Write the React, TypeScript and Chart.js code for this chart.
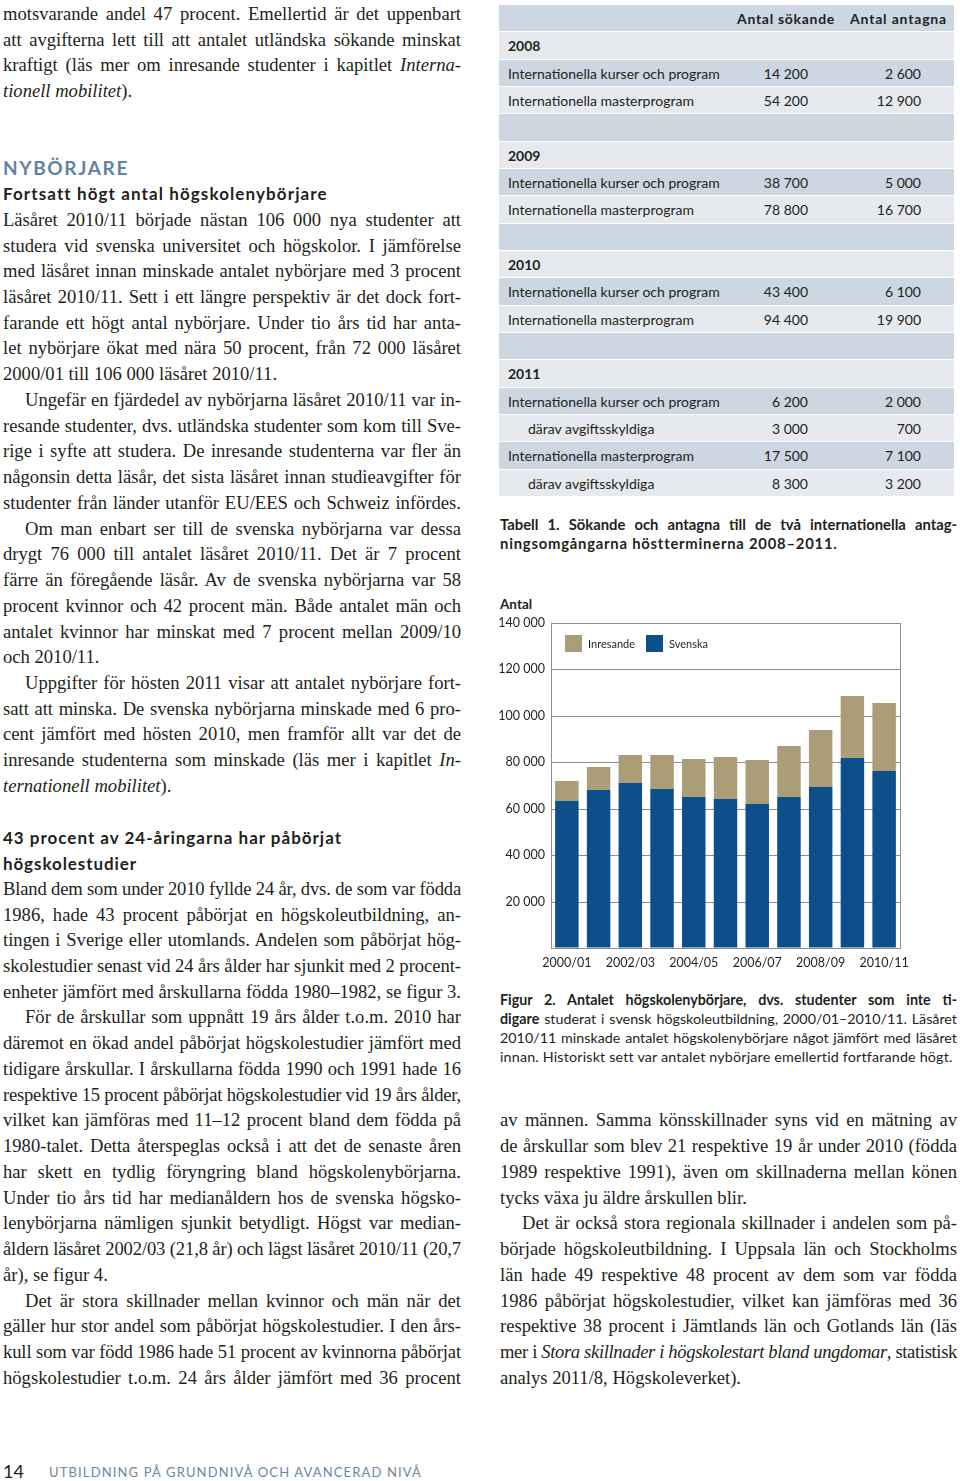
import React, { useEffect, useLayoutEffect, useRef } from 'react';
import { Chart, registerables } from 'chart.js';

Chart.register(...registerables);

// ---------- chart data ----------
const categories = ['2000/01', '2001/02', '2002/03', '2003/04', '2004/05', '2005/06', '2006/07', '2007/08', '2008/09', '2009/10', '2010/11'];
const svenska = [63500, 67900, 71100, 68500, 65100, 64200, 61900, 65200, 69500, 81900, 76100];
const inresande = [8500, 10100, 12200, 14500, 16200, 18200, 19100, 21700, 24300, 26800, 29400];
const yMax = 140000;
const yStep = 20000;
const seriesLabels = ['Svenska', 'Inresande'];
const axisTitle = 'Antal';

// ---------- table data ----------
const tableHeaders = ['Antal sökande', 'Antal antagna'];
const tableKinds = ['head', 'year', 'item', 'item', 'blank', 'year', 'item', 'item', 'blank', 'year', 'item', 'item', 'blank', 'year', 'item', 'sub', 'item', 'sub'];
const tableLabels = ['', '2008', 'Internationella kurser och program', 'Internationella masterprogram', '', '2009', 'Internationella kurser och program', 'Internationella masterprogram', '', '2010', 'Internationella kurser och program', 'Internationella masterprogram', '', '2011', 'Internationella kurser och program', 'därav avgiftsskyldiga', 'Internationella masterprogram', 'därav avgiftsskyldiga'];
const tableSokande = ['', '', '14 200', '54 200', '', '', '38 700', '78 800', '', '', '43 400', '94 400', '', '', '6 200', '3 000', '17 500', '8 300'];
const tableAntagna = ['', '', '2 600', '12 900', '', '', '5 000', '16 700', '', '', '6 100', '19 900', '', '', '2 000', '700', '7 100', '3 200'];

// ---------- text ----------
type L = [number, string, string]; // grid row, mode (j, ji, l), text
const leftLines: L[] = [
  [0, 'j', 'motsvarande andel 47 procent. Emellertid är det uppenbart'],
  [1, 'j', 'att avgifterna lett till att antalet utländska sökande minskat'],
  [2, 'j', 'kraftigt (läs mer om inresande studenter i kapitlet _Interna-_'],
  [3, 'l', '_tionell mobilitet_).'],
  [8, 'j', 'Läsåret 2010/11 började nästan 106 000 nya studenter att'],
  [9, 'j', 'studera vid svenska universitet och högskolor. I jämförelse'],
  [10, 'j', 'med läsåret innan minskade antalet nybörjare med 3 procent'],
  [11, 'j', 'läsåret 2010/11. Sett i ett längre perspektiv är det dock fort-'],
  [12, 'j', 'farande ett högt antal nybörjare. Under tio års tid har anta-'],
  [13, 'j', 'let nybörjare ökat med nära 50 procent, från 72 000 läsåret'],
  [14, 'l', '2000/01 till 106 000 läsåret 2010/11.'],
  [15, 'ji', 'Ungefär en fjärdedel av nybörjarna läsåret 2010/11 var in-'],
  [16, 'j', 'resande studenter, dvs. utländska studenter som kom till Sve-'],
  [17, 'j', 'rige i syfte att studera. De inresande studenterna var fler än'],
  [18, 'j', 'någonsin detta läsår, det sista läsåret innan studieavgifter för'],
  [19, 'j', 'studenter från länder utanför EU/EES och Schweiz infördes.'],
  [20, 'ji', 'Om man enbart ser till de svenska nybörjarna var dessa'],
  [21, 'j', 'drygt 76 000 till antalet läsåret 2010/11. Det är 7 procent'],
  [22, 'j', 'färre än föregående läsår. Av de svenska nybörjarna var 58'],
  [23, 'j', 'procent kvinnor och 42 procent män. Både antalet män och'],
  [24, 'j', 'antalet kvinnor har minskat med 7 procent mellan 2009/10'],
  [25, 'l', 'och 2010/11.'],
  [26, 'ji', 'Uppgifter för hösten 2011 visar att antalet nybörjare fort-'],
  [27, 'j', 'satt att minska. De svenska nybörjarna minskade med 6 pro-'],
  [28, 'j', 'cent jämfört med hösten 2010, men framför allt var det de'],
  [29, 'j', 'inresande studenterna som minskade (läs mer i kapitlet _In-_'],
  [30, 'l', '_ternationell mobilitet_).'],
  [34, 'j', 'Bland dem som under 2010 fyllde 24 år, dvs. de som var födda'],
  [35, 'j', '1986, hade 43 procent påbörjat en högskoleutbildning, an-'],
  [36, 'j', 'tingen i Sverige eller utomlands. Andelen som påbörjat hög-'],
  [37, 'j', 'skolestudier senast vid 24 års ålder har sjunkit med 2 procent-'],
  [38, 'j', 'enheter jämfört med årskullarna födda 1980–1982, se figur 3.'],
  [39, 'ji', 'För de årskullar som uppnått 19 års ålder t.o.m. 2010 har'],
  [40, 'j', 'däremot en ökad andel påbörjat högskolestudier jämfört med'],
  [41, 'j', 'tidigare årskullar. I årskullarna födda 1990 och 1991 hade 16'],
  [42, 'j', 'respektive 15 procent påbörjat högskolestudier vid 19 års ålder,'],
  [43, 'j', 'vilket kan jämföras med 11–12 procent bland dem födda på'],
  [44, 'j', '1980-talet. Detta återspeglas också i att det de senaste åren'],
  [45, 'j', 'har skett en tydlig föryngring bland högskolenybörjarna.'],
  [46, 'j', 'Under tio års tid har medianåldern hos de svenska högsko-'],
  [47, 'j', 'lenybörjarna nämligen sjunkit betydligt. Högst var median-'],
  [48, 'j', 'åldern läsåret 2002/03 (21,8 år) och lägst läsåret 2010/11 (20,7'],
  [49, 'l', 'år), se figur 4.'],
  [50, 'ji', 'Det är stora skillnader mellan kvinnor och män när det'],
  [51, 'j', 'gäller hur stor andel som påbörjat högskolestudier. I den års-'],
  [52, 'j', 'kull som var född 1986 hade 51 procent av kvinnorna påbörjat'],
  [53, 'j', 'högskolestudier t.o.m. 24 års ålder jämfört med 36 procent'],
];
const rightLines: L[] = [
  [43, 'j', 'av männen. Samma könsskillnader syns vid en mätning av'],
  [44, 'j', 'de årskullar som blev 21 respektive 19 år under 2010 (födda'],
  [45, 'j', '1989 respektive 1991), även om skillnaderna mellan könen'],
  [46, 'l', 'tycks växa ju äldre årskullen blir.'],
  [47, 'ji', 'Det är också stora regionala skillnader i andelen som på-'],
  [48, 'j', 'började högskoleutbildning. I Uppsala län och Stockholms'],
  [49, 'j', 'län hade 49 respektive 48 procent av dem som var födda'],
  [50, 'j', '1986 påbörjat högskolestudier, vilket kan jämföras med 36'],
  [51, 'j', 'respektive 38 procent i Jämtlands län och Gotlands län (läs'],
  [52, 'j', 'mer i _Stora skillnader i högskolestart bland ungdomar_, statistisk'],
  [53, 'l', 'analys 2011/8, Högskoleverket).'],
];
const tableCaption = ['Tabell 1. Sökande och antagna till de två internationella antag-', 'ningsomgångarna höstterminerna 2008–2011.'];
const figCaption = [
  '*Figur 2. Antalet högskolenybörjare, dvs. studenter som inte ti-*',
  '*digare* studerat i svensk högskoleutbildning, 2000/01–2010/11. Läsåret',
  '2010/11 minskade antalet högskolenybörjare något jämfört med läsåret',
  'innan. Historiskt sett var antalet nybörjare emellertid fortfarande högt.',
];

const SERIF = "'Liberation Serif', 'Times New Roman', serif";
const SANS = "Lato, 'Open Sans', sans-serif";
const INK = '#231f20';
const STEEL = '#5f84a3';
const BLUE = '#0c4f8b';
const TAN = '#ab9d77';
const GRID = '#8e8e8e';

const PITCH = 25.73;
const gy = (k: number) => 15 + PITCH * k;

function parse(s: string) {
  const out: React.ReactNode[] = [];
  let it = false, b = false, buf = '', key = 0;
  const flush = () => {
    if (buf) {
      out.push(<span key={key++} style={{ fontStyle: it ? 'italic' : 'normal', fontWeight: b ? 700 : undefined }}>{buf}</span>);
      buf = '';
    }
  };
  for (const ch of s) {
    if (ch === '_') { flush(); it = !it; }
    else if (ch === '*') { flush(); b = !b; }
    else buf += ch;
  }
  flush();
  return out;
}

function TextLine(p: { x: number; top: number; w: number; h: number; mode: string; text: string; style?: React.CSSProperties }) {
  return (
    <div style={{ position: 'absolute', left: p.x, top: p.top, width: p.w + 40, height: p.h, lineHeight: `${p.h}px`, whiteSpace: 'nowrap', ...p.style }}>
      <span data-w={p.mode === 'l' ? undefined : p.w} data-mode={p.mode}>{parse(p.text)}</span>
    </div>
  );
}

function fitAll() {
  document.querySelectorAll<HTMLElement>('[data-w]').forEach((el) => {
    const w = parseFloat(el.dataset.w || '0');
    const mode = el.dataset.mode;
    el.style.wordSpacing = '0px';
    el.style.letterSpacing = '0px';
    const nat = el.getBoundingClientRect().width;
    const txt = el.textContent || '';
    const diff = w - nat;
    const spaces = (txt.match(/ /g) || []).length;
    if (mode === 'j' && diff >= 0 && spaces > 0) {
      el.style.wordSpacing = `${diff / spaces}px`;
    } else {
      el.style.letterSpacing = `${diff / txt.length}px`;
    }
  });
}

function fmt(v: number) {
  return String(v).replace(/\B(?=(\d{3})+(?!\d))/g, ' ');
}

const framePlugin = {
  id: 'frame',
  afterDraw(chart: any) {
    const { ctx, chartArea } = chart;
    ctx.save();
    ctx.strokeStyle = GRID;
    ctx.lineWidth = 1;
    const x = Math.round(chartArea.right) + 0.5;
    ctx.beginPath();
    ctx.moveTo(x, chartArea.top);
    ctx.lineTo(x, chartArea.bottom);
    ctx.stroke();
    ctx.restore();
  },
};

const insideLegend = {
  id: 'insideLegend',
  afterDraw(chart: any) {
    const { ctx, chartArea } = chart;
    const order = [1, 0];
    let x = chartArea.left + 14;
    const y = chartArea.top + 12;
    ctx.save();
    ctx.font = `11px ${SANS}`;
    ctx.textBaseline = 'middle';
    order.forEach((i) => {
      const ds = chart.data.datasets[i];
      ctx.fillStyle = ds.backgroundColor;
      ctx.fillRect(x, y, 17, 17);
      ctx.fillStyle = INK;
      ctx.fillText(ds.label, x + 23, y + 9);
      x += 81;
    });
    ctx.restore();
  },
};

function BarChart() {
  const ref = useRef<HTMLCanvasElement>(null);
  useEffect(() => {
    const chart = new Chart(ref.current as HTMLCanvasElement, {
      type: 'bar',
      data: {
        labels: categories,
        datasets: [
          { label: seriesLabels[0], data: svenska, backgroundColor: BLUE, barPercentage: 0.74, categoryPercentage: 1 },
          { label: seriesLabels[1], data: inresande, backgroundColor: TAN, barPercentage: 0.74, categoryPercentage: 1 },
        ],
      },
      options: {
        animation: false,
        responsive: false,
        layout: { padding: { top: 33, right: 60, left: 0, bottom: 0 } },
        plugins: { legend: { display: false }, tooltip: { enabled: false } },
        scales: {
          x: {
            stacked: true,
            grid: { display: false, drawTicks: false },
            border: { color: GRID },
            ticks: {
              autoSkip: false,
              maxRotation: 0,
              minRotation: 0,
              padding: 7,
              color: INK,
              font: { size: 12.5, family: SANS },
              callback: (_v: any, i: number) => (i % 2 === 0 ? categories[i] : ''),
            },
            afterFit: (s: any) => { s.height = 32; },
          },
          y: {
            stacked: true,
            min: 0,
            max: yMax,
            alignToPixels: true,
            grid: { color: GRID, drawTicks: false },
            border: { color: GRID },
            ticks: {
              stepSize: yStep,
              padding: 6,
              color: INK,
              font: { size: 12.5, family: SANS },
              callback: (v: any) => (Number(v) === 0 ? '' : fmt(Number(v))),
            },
            afterFit: (s: any) => { s.width = 56; },
          },
        },
      } as any,
      plugins: [framePlugin, insideLegend],
    });
    if ((document as any).fonts) (document as any).fonts.ready.then(() => { try { chart.update(); } catch (e) { /* destroyed */ } });
    return () => chart.destroy();
  }, []);
  return <canvas ref={ref} width={465} height={390} style={{ position: 'absolute', left: 495, top: 590, width: 465, height: 390 }} />;
}

function Table() {
  const top0 = 5;
  const rh = 27.33;
  const left = 499;
  const width = 455;
  return (
    <>
      {tableKinds.map((kind, i) => {
        const top = top0 + i * rh;
        const bg = i % 2 === 0 ? '#cdd7e1' : '#e6eaef';
        return (
          <div key={i} style={{ position: 'absolute', left, top, width, height: rh - 1, background: bg }}>
            {kind === 'head' && (
              <>
                <TextLine x={238} top={0} w={98} h={rh} mode="fit" text={tableHeaders[0]} style={{ fontWeight: 700 }} />
                <TextLine x={351} top={0} w={97} h={rh} mode="fit" text={tableHeaders[1]} style={{ fontWeight: 700 }} />
              </>
            )}
            {kind === 'year' && (
              <div style={{ position: 'absolute', left: 9, top: 0, height: rh, lineHeight: `${rh}px`, fontWeight: 700 }}>{tableLabels[i]}</div>
            )}
            {(kind === 'item' || kind === 'sub') && (
              <>
                <div style={{ position: 'absolute', left: kind === 'sub' ? 29 : 9, top: 0, height: rh, lineHeight: `${rh}px`, whiteSpace: 'nowrap' }}>{tableLabels[i]}</div>
                <div style={{ position: 'absolute', left: 309 - 80, width: 80, top: 0, height: rh, lineHeight: `${rh}px`, textAlign: 'right' }}>{tableSokande[i]}</div>
                <div style={{ position: 'absolute', left: 422 - 80, width: 80, top: 0, height: rh, lineHeight: `${rh}px`, textAlign: 'right' }}>{tableAntagna[i]}</div>
              </>
            )}
          </div>
        );
      })}
    </>
  );
}

export default function App() {
  useLayoutEffect(() => {
    fitAll();
    if ((document as any).fonts) (document as any).fonts.ready.then(() => fitAll());
  }, []);

  const serifStyle: React.CSSProperties = { fontFamily: SERIF, fontSize: 18.6, color: INK };
  const bodyLine = (l: L, x0: number, w0: number, key: string) => {
    const [k, mode, text] = l;
    const ind = mode === 'ji' ? 22 : 0;
    return (
      <TextLine key={key} x={x0 + ind} top={gy(k) - 14} w={w0 - ind} h={PITCH} mode={mode === 'l' ? 'l' : 'j'} text={text} style={serifStyle} />
    );
  };

  return (
    <div style={{ position: 'absolute', left: 0, top: 0, width: 960, height: 1481, overflow: 'hidden', background: '#fff', fontFamily: SANS, color: INK, fontSize: 14 }}>
      {/* left column */}
      {leftLines.map((l, i) => bodyLine(l, 3, 458, 'L' + i))}
      <TextLine x={3} top={gy(6) - 14} w={126} h={PITCH} mode="fit" text="NYBÖRJARE" style={{ fontFamily: SANS, fontWeight: 700, fontSize: 19, color: STEEL }} />
      <TextLine x={3} top={gy(7) - 14} w={324} h={PITCH} mode="fit" text="Fortsatt högt antal högskolenybörjare" style={{ fontFamily: SANS, fontWeight: 700, fontSize: 17 }} />
      <TextLine x={3} top={gy(32) - 13} w={339} h={PITCH} mode="fit" text="43 procent av 24-åringarna har påbörjat" style={{ fontFamily: SANS, fontWeight: 700, fontSize: 17 }} />
      <TextLine x={3} top={gy(33) - 13} w={134} h={PITCH} mode="fit" text="högskolestudier" style={{ fontFamily: SANS, fontWeight: 700, fontSize: 17 }} />

      {/* right column */}
      <Table />
      <TextLine x={500} top={525 - 10.5} w={457} h={19} mode="j" text={tableCaption[0]} style={{ fontWeight: 700, fontSize: 14.8 }} />
      <TextLine x={500} top={544 - 10.5} w={337} h={19} mode="fit" text={tableCaption[1]} style={{ fontWeight: 700, fontSize: 14.8 }} />

      <div style={{ position: 'absolute', left: 500, top: 595, fontWeight: 700, fontSize: 13.5, lineHeight: '18px' }}>{axisTitle}</div>
      <BarChart />

      {figCaption.map((t, i) => (
        <TextLine key={'F' + i} x={500} top={1000 + 19 * i - 10.5} w={i === 3 ? 452 : 457} h={19} mode={i === 3 ? 'fit' : 'j'} text={t} style={{ fontSize: 14.3 }} />
      ))}

      {rightLines.map((l, i) => bodyLine(l, 500, 457, 'R' + i))}

      {/* footer */}
      <div style={{ position: 'absolute', left: 3, top: 1461, fontSize: 18, lineHeight: '20px', color: INK }}>14</div>
      <TextLine x={49} top={1462} w={373} h={20} mode="fit" text="UTBILDNING PÅ GRUNDNIVÅ OCH AVANCERAD NIVÅ" style={{ fontSize: 13, color: '#6b88a2' }} />
    </div>
  );
}
